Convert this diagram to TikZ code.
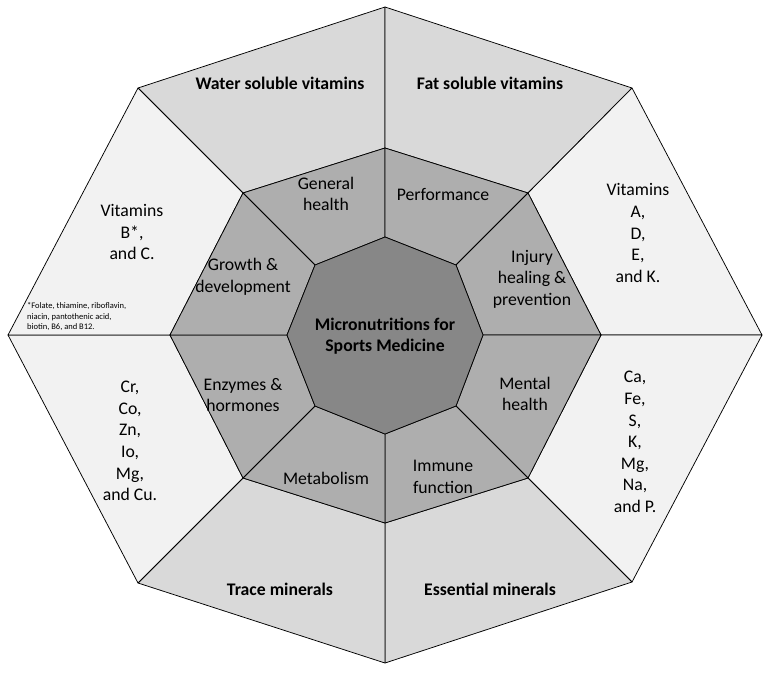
\documentclass[tikz,border=0pt]{standalone}
\usepackage{fontspec}
\setmainfont{Carlito}
\definecolor{vlight}{HTML}{F2F2F2}
\definecolor{lgray}{HTML}{D9D9D9}
\definecolor{mgray}{HTML}{AEAEAE}
\definecolor{dgray}{HTML}{878787}
\begin{document}
\begin{tikzpicture}[x=1pt,y=-1pt,line join=round,
  edge/.style={draw=black,line width=0.75pt},
  vlightsec/.style={edge,fill=vlight},
  lgraysec/.style={edge,fill=lgray},
  mgraysec/.style={edge,fill=mgray},
  coresec/.style={edge,fill=dgray},
  lbl/.style={font=\fontsize{17.7}{21.6}\selectfont,align=center,inner sep=0pt},
  blbl/.style={font=\fontsize{17.7}{21.6}\selectfont\bfseries,align=center,inner sep=0pt},
  note/.style={font=\fontsize{8.5}{10.5}\selectfont,align=left,inner sep=0pt}]
\useasboundingbox (0,0) rectangle (770,672);
% outer octagon
\coordinate (O1) at (385,7);
\coordinate (O2) at (632,88);
\coordinate (O3) at (762,335);
\coordinate (O4) at (632,582);
\coordinate (O5) at (385,663);
\coordinate (O6) at (138,583);
\coordinate (O7) at (8,335);
\coordinate (O8) at (138,88);
% middle octagon
\coordinate (M1) at (385,148);
\coordinate (M2) at (528,193);
\coordinate (M3) at (601,335);
\coordinate (M4) at (528,478);
\coordinate (M5) at (385,523);
\coordinate (M6) at (243,478);
\coordinate (M7) at (170,335);
\coordinate (M8) at (243,193);
% inner octagon
\coordinate (I1) at (385,237);
\coordinate (I2) at (456,265);
\coordinate (I3) at (483,335);
\coordinate (I4) at (456,406);
\coordinate (I5) at (385,434);
\coordinate (I6) at (315,406);
\coordinate (I7) at (287,335);
\coordinate (I8) at (315,265);
% outer sectors
\path[lgraysec] (O8)--(O1)--(M1)--(M8)--cycle;
\path[lgraysec] (O1)--(O2)--(M2)--(M1)--cycle;
\path[vlightsec] (O2)--(O3)--(M3)--(M2)--cycle;
\path[vlightsec] (O3)--(O4)--(M4)--(M3)--cycle;
\path[lgraysec] (O4)--(O5)--(M5)--(M4)--cycle;
\path[lgraysec] (O5)--(O6)--(M6)--(M5)--cycle;
\path[vlightsec] (O6)--(O7)--(M7)--(M6)--cycle;
\path[vlightsec] (O7)--(O8)--(M8)--(M7)--cycle;
% middle sectors
\path[mgraysec] (M8)--(M1)--(I1)--(I8)--cycle;
\path[mgraysec] (M1)--(M2)--(I2)--(I1)--cycle;
\path[mgraysec] (M2)--(M3)--(I3)--(I2)--cycle;
\path[mgraysec] (M3)--(M4)--(I4)--(I3)--cycle;
\path[mgraysec] (M4)--(M5)--(I5)--(I4)--cycle;
\path[mgraysec] (M5)--(M6)--(I6)--(I5)--cycle;
\path[mgraysec] (M6)--(M7)--(I7)--(I6)--cycle;
\path[mgraysec] (M7)--(M8)--(I8)--(I7)--cycle;
% core
\path[coresec] (I1)--(I2)--(I3)--(I4)--(I5)--(I6)--(I7)--(I8)--cycle;
% labels
\node[blbl] (center) at (385,336) {Micronutritions for\\Sports Medicine};
\node[blbl] (water) at (280,83) {Water soluble vitamins};
\node[blbl] (fat) at (490,83) {Fat soluble vitamins};
\node[blbl] (trace) at (280,589) {Trace minerals};
\node[blbl] (essential) at (490,589) {Essential minerals};
\node[lbl] (vitADEK) at (638,233) {Vitamins\\A,\\D,\\E,\\and K.};
\node[lbl] (vitBC) at (132,232) {Vitamins\\B*,\\and C.};
\node[note,anchor=west] (footnote) at (27,317) {*Folate, thiamine, riboflavin,\\niacin, pantothenic acid,\\biotin, B6, and B12.};
\node[lbl] (traceList) at (130,441) {Cr,\\Co,\\Zn,\\Io,\\Mg,\\and Cu.};
\node[lbl] (essList) at (635,442) {Ca,\\Fe,\\S,\\K,\\Mg,\\Na,\\and P.};
\node[lbl] (general) at (326,194) {General\\health};
\node[lbl] (perf) at (443,194) {Performance};
\node[lbl] (injury) at (532,279) {Injury\\healing \&\\prevention};
\node[lbl] (mental) at (525,394) {Mental\\health};
\node[lbl] (immune) at (443,477) {Immune\\function};
\node[lbl] (metab) at (326,478) {Metabolism};
\node[lbl] (enzymes) at (243,395) {Enzymes \&\\hormones};
\node[lbl] (growth) at (243,277) {Growth \&\\development};
\end{tikzpicture}
\end{document}
